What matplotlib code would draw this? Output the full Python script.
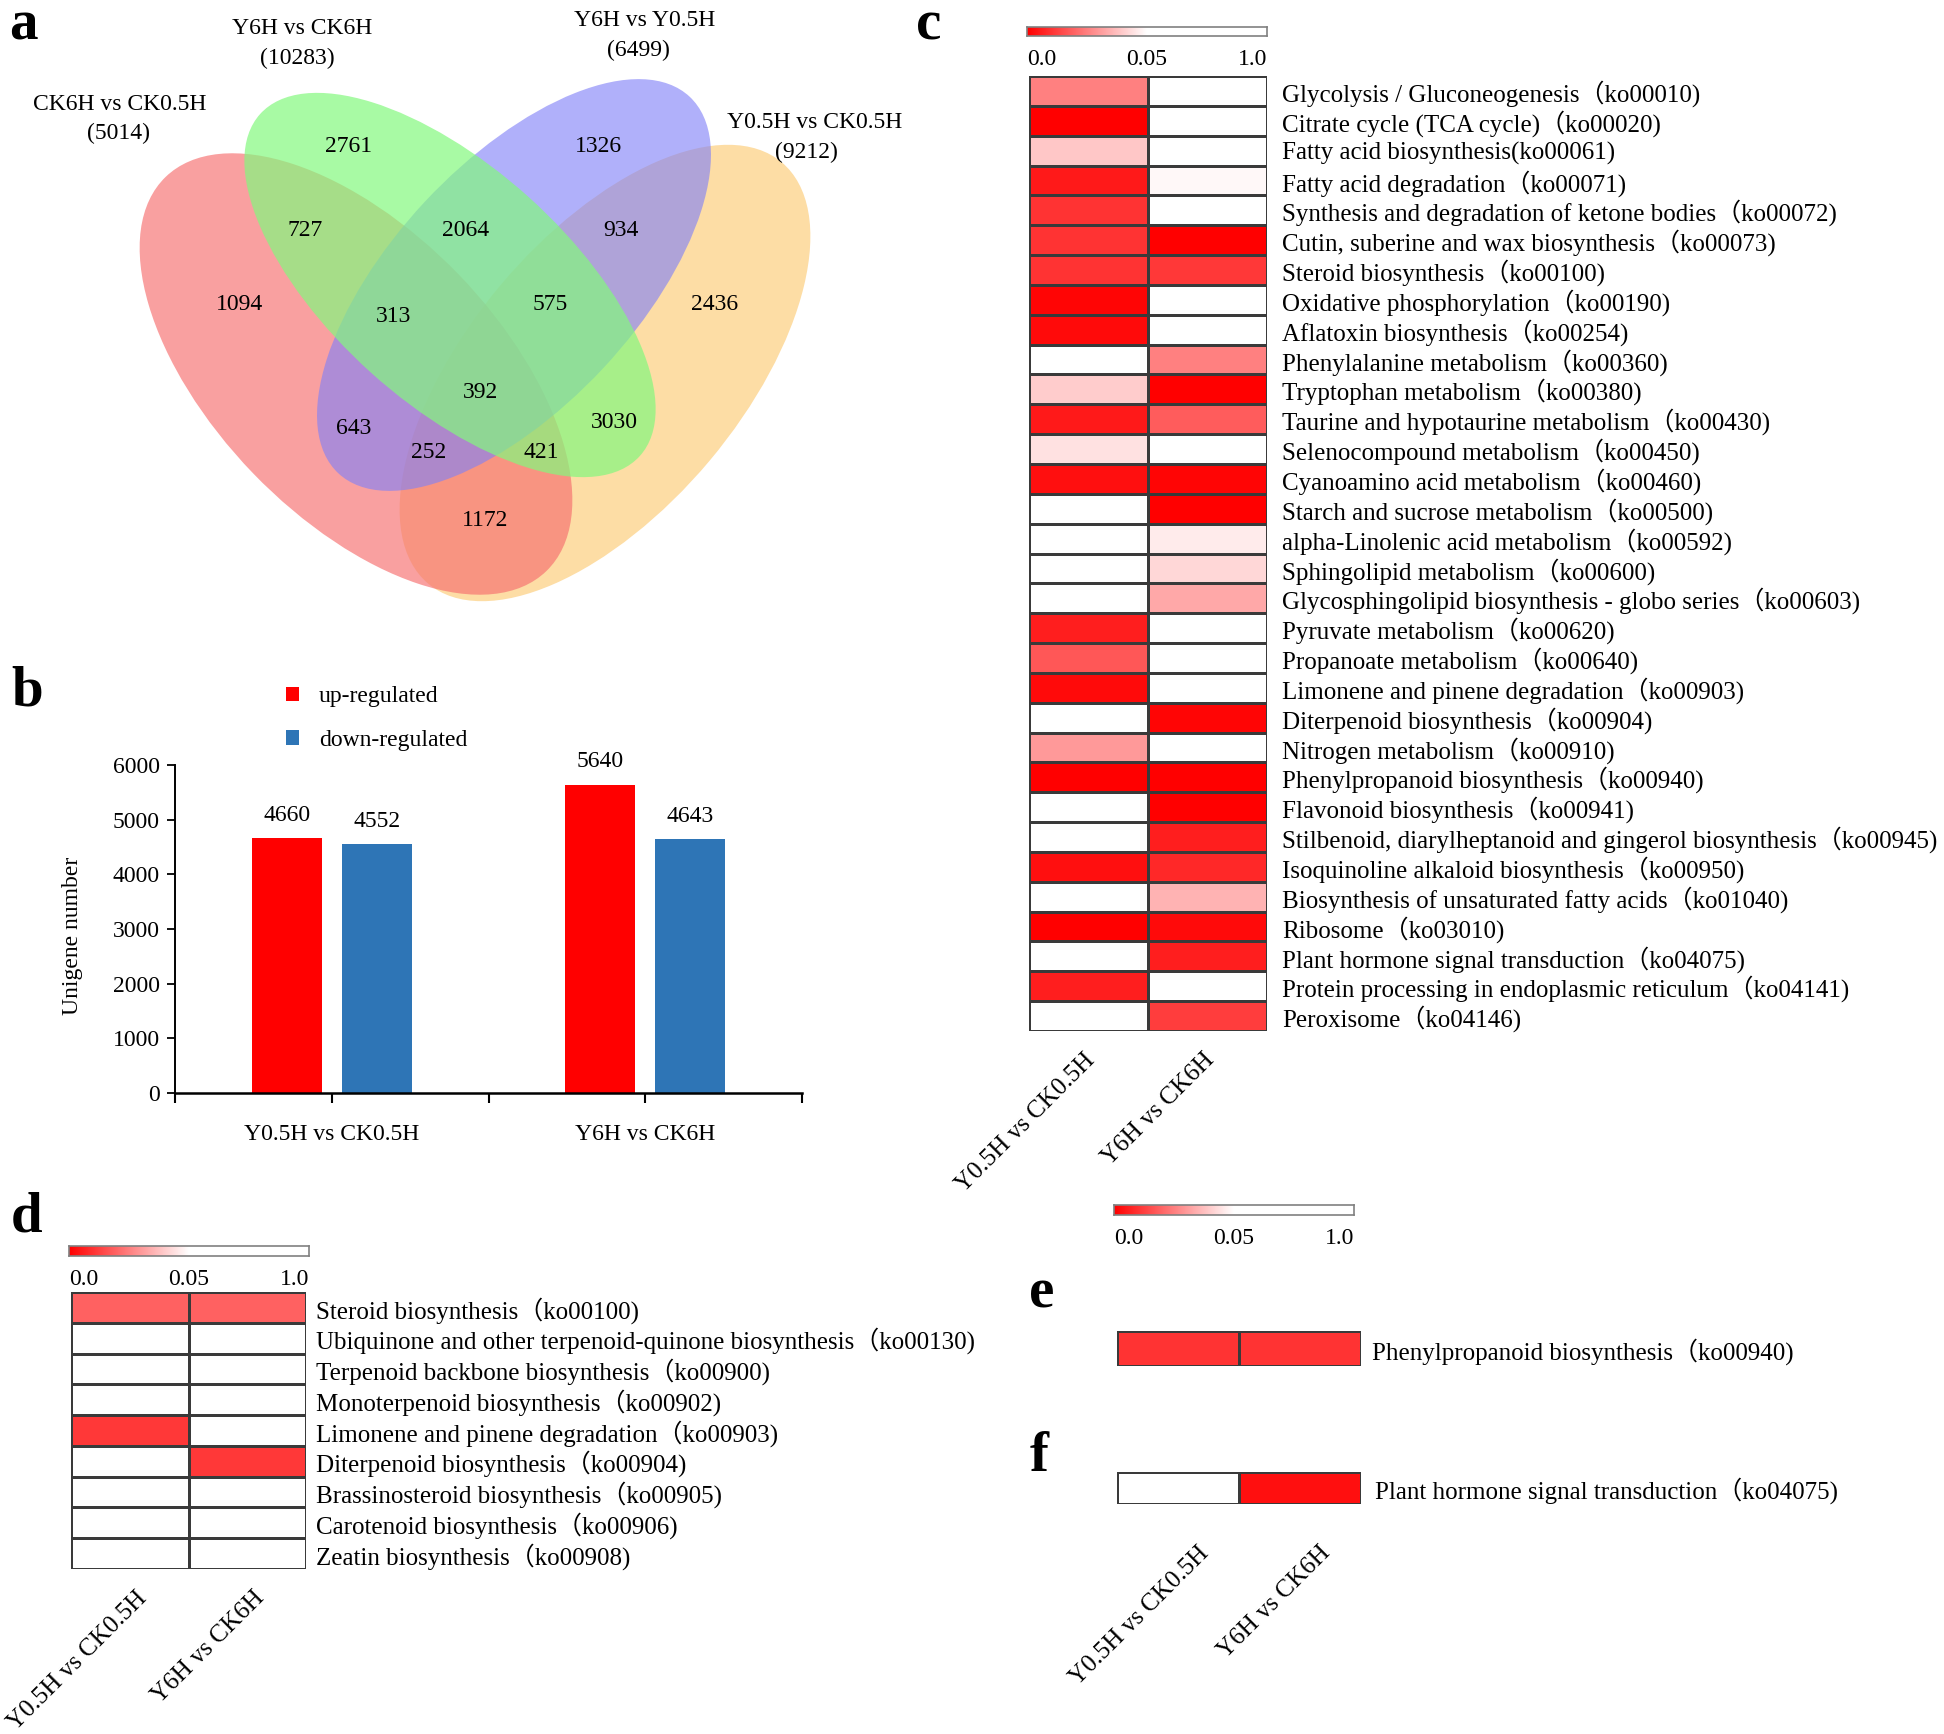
import numpy as np
import matplotlib
matplotlib.use("Agg")
import matplotlib.pyplot as plt
from matplotlib.patches import Ellipse
from matplotlib.colors import LinearSegmentedColormap, Normalize
from matplotlib.transforms import ScaledTranslation

plt.rcParams['font.family'] = ['Liberation Serif', 'Noto Sans CJK SC']

# ------------------------------------------------------------------ data
venn_sets = ['CK6H vs CK0.5H', 'Y6H vs CK6H', 'Y6H vs Y0.5H', 'Y0.5H vs CK0.5H']
venn_totals = [5014, 10283, 6499, 9212]
venn_regions = ['2761', '1326', '727', '2064', '934', '1094', '313', '575',
                '2436', '392', '643', '3030', '252', '421', '1172']

bar_groups = ['Y0.5H vs CK0.5H', 'Y6H vs CK6H']
up_regulated = [4660, 5640]
down_regulated = [4552, 4643]
bar_series = ['up-regulated', 'down-regulated']

comparisons = ['Y0.5H vs CK0.5H', 'Y6H vs CK6H']
scale_ticks = ['0.0', '0.05', '1.0']

c_pathways = [
    'Glycolysis / Gluconeogenesis（ko00010)',
    'Citrate cycle (TCA cycle)（ko00020)',
    'Fatty acid biosynthesis(ko00061)',
    'Fatty acid degradation（ko00071)',
    'Synthesis and degradation of ketone bodies（ko00072)',
    'Cutin, suberine and wax biosynthesis（ko00073)',
    'Steroid biosynthesis（ko00100)',
    'Oxidative phosphorylation（ko00190)',
    'Aflatoxin biosynthesis（ko00254)',
    'Phenylalanine metabolism（ko00360)',
    'Tryptophan metabolism（ko00380)',
    'Taurine and hypotaurine metabolism（ko00430)',
    'Selenocompound metabolism（ko00450)',
    'Cyanoamino acid metabolism（ko00460)',
    'Starch and sucrose metabolism（ko00500)',
    'alpha-Linolenic acid metabolism（ko00592)',
    'Sphingolipid metabolism（ko00600)',
    'Glycosphingolipid biosynthesis - globo series（ko00603)',
    'Pyruvate metabolism（ko00620)',
    'Propanoate metabolism（ko00640)',
    'Limonene and pinene degradation（ko00903)',
    'Diterpenoid biosynthesis（ko00904)',
    'Nitrogen metabolism（ko00910)',
    'Phenylpropanoid biosynthesis（ko00940)',
    'Flavonoid biosynthesis（ko00941)',
    'Stilbenoid, diarylheptanoid and gingerol biosynthesis（ko00945)',
    'Isoquinoline alkaloid biosynthesis（ko00950)',
    'Biosynthesis of unsaturated fatty acids（ko01040)',
    'Ribosome（ko03010)',
    'Plant hormone signal transduction（ko04075)',
    'Protein processing in endoplasmic reticulum（ko04141)',
    'Peroxisome（ko04146)',
]
c_p_y05 = [0.025, 0.000, 0.039, 0.005, 0.010, 0.010, 0.010, 0.001,
           0.002, 1.000, 0.040, 0.005, 0.044, 0.003, 1.000, 1.000,
           1.000, 1.000, 0.006, 0.017, 0.002, 1.000, 0.030, 0.000,
           1.000, 1.000, 0.003, 1.000, 0.000, 1.000, 0.006, 1.000]
c_p_y6 = [1.000, 1.000, 1.000, 0.0486, 1.000, 0.000, 0.011, 1.000,
          1.000, 0.025, 0.000, 0.018, 1.000, 0.001, 0.000, 0.046,
          0.042, 0.033, 1.000, 1.000, 1.000, 0.001, 1.000, 0.000,
          0.000, 0.006, 0.008, 0.035, 0.002, 0.006, 1.000, 0.012]

d_pathways = [
    'Steroid biosynthesis（ko00100)',
    'Ubiquinone and other terpenoid-quinone biosynthesis（ko00130)',
    'Terpenoid backbone biosynthesis（ko00900)',
    'Monoterpenoid biosynthesis（ko00902)',
    'Limonene and pinene degradation（ko00903)',
    'Diterpenoid biosynthesis（ko00904)',
    'Brassinosteroid biosynthesis（ko00905)',
    'Carotenoid biosynthesis（ko00906)',
    'Zeatin biosynthesis（ko00908)',
]
d_p_y05 = [0.019, 1.0, 1.0, 1.0, 0.011, 1.0, 1.0, 1.0, 1.0]
d_p_y6 = [0.019, 1.0, 1.0, 1.0, 1.0, 0.011, 1.0, 1.0, 1.0]

e_pathways = ['Phenylpropanoid biosynthesis（ko00940)']
e_p_y05 = [0.010]
e_p_y6 = [0.010]

f_pathways = ['Plant hormone signal transduction（ko04075)']
f_p_y05 = [1.0]
f_p_y6 = [0.003]

# ------------------------------------------------------------------ layout / style
W, H = 1944, 1734
fig = plt.figure(figsize=(W / 100, H / 100), dpi=100)


def px_axes(x0, y0, x1, y1):
    return fig.add_axes([x0 / W, 1 - y1 / H, (x1 - x0) / W, (y1 - y0) / H])


cmap = LinearSegmentedColormap.from_list('p_red', ['#ff0000', '#ffffff'])
norm = Normalize(vmin=0.0, vmax=0.05, clip=True)

# ---------------- panel a : Venn
ax_a = px_axes(0, 0, 960, 640)
ax_a.set_xlim(0, 960)
ax_a.set_ylim(640, 0)
ax_a.axis('off')

venn_shapes = {  # set index -> (cx, cy, width, height, angle, colour, alpha)
    0: (356, 374, 548, 286, 46, '#f66f6f', 0.66),
    1: (450, 285, 511, 236, 42, '#83f87e', 0.70),
    2: (514, 285, 515, 244, -47, '#8181f7', 0.625),
    3: (605, 373, 550, 273, -50, '#fddda5', 1.0),
}
for i in [3, 0, 2, 1]:
    cx, cy, w, h, ang, col, al = venn_shapes[i]
    ax_a.add_patch(Ellipse((cx, cy), w, h, angle=ang, facecolor=col,
                           alpha=al, edgecolor='none'))

venn_title_pos = [(120, 104), (302, 29), (645, 21), (815, 122)]
venn_total_pos = [(119, 133), (297, 58), (638, 50), (806, 152)]
for name, tot, p1, p2 in zip(venn_sets, venn_totals, venn_title_pos, venn_total_pos):
    ax_a.text(*p1, name, fontsize=17, ha='center', va='center')
    ax_a.text(*p2, f'({tot})', fontsize=17, ha='center', va='center')

venn_region_pos = [(349, 146), (598, 146), (305, 231), (466, 231), (621, 231),
                   (240, 304), (394, 316), (550, 304), (715, 304), (480, 392),
                   (354, 429), (614, 422), (429, 453), (541, 453), (485, 520)]
for txt, p in zip(venn_regions, venn_region_pos):
    ax_a.text(*p, txt, fontsize=17, ha='center', va='center')

# ---------------- panel b : bar chart
ax_b = px_axes(175, 765, 802, 1093)
xc = np.array([0.5, 1.5])
bw = 0.223
b_up = ax_b.bar(xc - 0.143, up_regulated, bw, color='#ff0000', label=bar_series[0])
b_dn = ax_b.bar(xc + 0.143, down_regulated, bw, color='#2e75b6', label=bar_series[1])
ax_b.bar_label(b_up, fontsize=17, padding=9)
ax_b.bar_label(b_dn, fontsize=17, padding=9)
ax_b.set_xlim(0, 2)
ax_b.set_ylim(0, 6000)
ax_b.set_yticks(np.arange(0, 6001, 1000))
ax_b.tick_params(axis='y', labelsize=17, length=6, width=1.3, pad=5, direction='out')
ax_b.set_xticks([0, 0.5, 1.0, 1.5, 2.0])
ax_b.set_xticklabels(['', bar_groups[0], '', bar_groups[1], ''])
ax_b.tick_params(axis='x', labelsize=17, length=7, width=1.5, pad=15.5, direction='out')
for s in ['top', 'right']:
    ax_b.spines[s].set_visible(False)
ax_b.spines['left'].set_linewidth(1.4)
ax_b.spines['bottom'].set_linewidth(1.8)
ax_b.set_ylabel('Unigene number', fontsize=17)
ax_b.yaxis.set_label_coords(-0.147, 0.48)
ax_b.legend(handles=[b_up, b_dn], labels=bar_series, loc='upper left',
            bbox_to_anchor=(286 / W, 1 - 686 / H), bbox_transform=fig.transFigure,
            frameon=False, fontsize=17, handlelength=0.55, handleheight=0.55,
            handletextpad=0.85, labelspacing=0.97, borderpad=0, borderaxespad=0)


# ---------------- heatmap helpers
def draw_scale(ax, pad_px=13):
    t = np.linspace(0, 1, 512)
    vals = np.where(t <= 0.5, 0.05 * t / 0.5, 0.05 + 0.95 * (t - 0.5) / 0.5)
    ax.imshow(vals[np.newaxis, :], aspect='auto', cmap=cmap, norm=norm,
              extent=(0, 1, 0, 1), interpolation='bilinear')
    ax.set_xlim(0, 1)
    ax.set_ylim(0, 1)
    ax.set_yticks([])
    ax.set_xticks([0, 0.5, 1.0])
    ax.set_xticklabels(scale_ticks, fontsize=17)
    lbls = ax.get_xticklabels()
    lbls[0].set_ha('left')
    lbls[2].set_ha('right')
    ax.tick_params(axis='x', length=0, pad=pad_px * 0.72)
    for s in ax.spines.values():
        s.set_edgecolor('#808080')
        s.set_linewidth(1.2)


def draw_heat(ax, cols, rows, row_pad_px, col_labels=None, col_pad_px=0,
              col_dx_px=0, fs=18):
    data = np.column_stack(cols)
    ax.pcolormesh(data, cmap=cmap, norm=norm, edgecolors='#3a3a3a', linewidth=1.0)
    ax.set_xlim(0, data.shape[1])
    ax.set_ylim(data.shape[0], 0)
    for s in ax.spines.values():
        s.set_visible(False)
    ax.yaxis.tick_right()
    ax.set_yticks(np.arange(data.shape[0]) + 0.5)
    ax.set_yticklabels(rows, fontsize=fs)
    ax.tick_params(axis='y', length=0, pad=row_pad_px * 0.72)
    if col_labels:
        ax.set_xticks(np.arange(data.shape[1]) + 0.5)
        ax.set_xticklabels(col_labels, rotation=45, ha='right', va='center',
                           rotation_mode='anchor', fontsize=18)
        ax.tick_params(axis='x', length=0, pad=col_pad_px * 0.72)
        off = ScaledTranslation(col_dx_px / 100, 0, fig.dpi_scale_trans)
        for lbl in ax.get_xticklabels():
            lbl.set_transform(lbl.get_transform() + off)
    else:
        ax.set_xticks([])


# ---------------- panel c
draw_scale(px_axes(1027, 27, 1267, 36))
draw_heat(px_axes(1029, 76, 1267, 1031), [c_p_y05, c_p_y6], c_pathways,
          row_pad_px=15, col_labels=comparisons, col_pad_px=26, col_dx_px=3)

# ---------------- panel d
draw_scale(px_axes(69, 1246, 309, 1256))
draw_heat(px_axes(71, 1292, 306, 1569), [d_p_y05, d_p_y6], d_pathways,
          row_pad_px=10, col_labels=comparisons, col_pad_px=26, col_dx_px=14)

# ---------------- panels e / f
draw_scale(px_axes(1114, 1205, 1354, 1215))
draw_heat(px_axes(1117, 1331, 1361, 1366), [e_p_y05, e_p_y6], e_pathways, row_pad_px=11)
draw_heat(px_axes(1117, 1472, 1361, 1504), [f_p_y05, f_p_y6], f_pathways,
          row_pad_px=14, col_labels=comparisons, col_pad_px=46, col_dx_px=27)

# ---------------- panel letters
for letter, (lx, ly) in zip('abcdef', [(9, 40), (11, 705), (916, 40),
                                       (11, 1231), (1029, 1307), (1030, 1471)]):
    fig.text(lx / W, 1 - ly / H, letter, fontsize=41, fontweight='bold',
             ha='left', va='baseline')

fig.savefig('out.png', dpi=100)
